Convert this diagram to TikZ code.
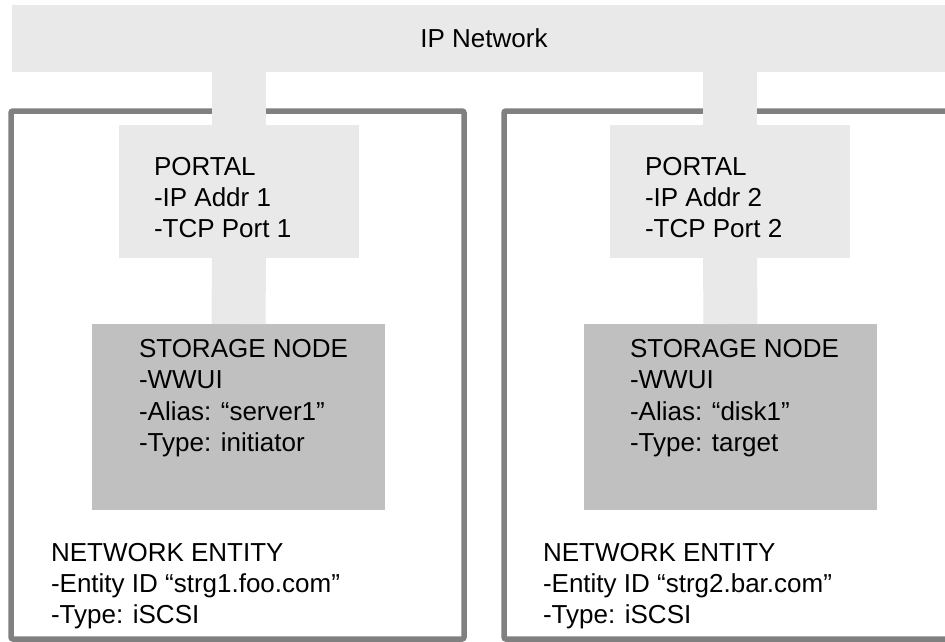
\documentclass[tikz,border=0pt]{standalone}
\usepackage{fontspec}
\setmainfont{Liberation Sans}
\definecolor{netgray}{RGB}{233,233,233}
\definecolor{nodegray}{RGB}{192,192,192}
\definecolor{framegray}{RGB}{128,128,128}
\begin{document}
\begin{tikzpicture}[x=1pt,y=-1pt,
  blockbox/.style={rectangle, inner sep=0pt, outer sep=0pt, anchor=north west, draw=none},
  netbox/.style={blockbox, fill=netgray},
  sbox/.style={blockbox, fill=nodegray, minimum width=293pt, minimum height=186pt},
  pbox/.style={netbox, minimum width=240pt, minimum height=133pt},
  framebox/.style={blockbox, draw=framegray, line width=5.5pt, rounded corners=2pt, fill=none},
  strip/.style={draw=netgray, line width=54pt, line cap=butt},
  lbl/.style={anchor=north west, inner sep=0pt, outer sep=0pt, align=left,
              font=\fontsize{26}{31.3}\selectfont},
]
\useasboundingbox (0,0) rectangle (945,642);
\clip (0,0) rectangle (945,642);
\fill[white] (0,0) rectangle (945,642);

% IP network band
\node[netbox, minimum width=960pt, minimum height=67pt] (net) at (12,5) {};
\node[anchor=base, inner sep=0pt, font=\fontsize{26}{31.3}\selectfont] (netlbl) at (484,48) {IP Network};

% network entity frames
\node[framebox, minimum width=453pt, minimum height=528pt] (ent1) at (11,111) {};
\node[framebox, minimum width=480pt, minimum height=528pt] (ent2) at (504,111) {};

% portals
\node[pbox] (p1) at (119,125) {};
\node[pbox] (p2) at (610,125) {};

% storage nodes
\node[sbox] (s1) at (92,324) {};
\node[sbox] (s2) at (584,324) {};

% connecting strips
\draw[strip] (net.south -| p1.north) -- (p1.north);
\draw[strip] (p1.south) -- (s1.north);
\draw[strip] (net.south -| p2.north) -- (p2.north);
\draw[strip] (p2.south) -- (s2.north);

% labels
\node[lbl] (p1lbl) at (154,155) {\rule{0pt}{20pt}PORTAL\\-IP Addr 1\\-TCP Port 1};
\node[lbl] (p2lbl) at (645,155) {\rule{0pt}{20pt}PORTAL\\-IP Addr 2\\-TCP Port 2};
\node[lbl] (s1lbl) at (139,337.5) {\rule{0pt}{20pt}STORAGE NODE\\-WWUI\\-Alias: “server1”\\-Type: initiator};
\node[lbl] (s2lbl) at (630,337.5) {\rule{0pt}{20pt}STORAGE NODE\\-WWUI\\-Alias: “disk1”\\-Type: target};
\node[lbl] (e1lbl) at (51,541) {\rule{0pt}{20pt}NETWORK ENTITY\\-Entity ID “strg1.foo.com”\\-Type: iSCSI};
\node[lbl] (e2lbl) at (543,541) {\rule{0pt}{20pt}NETWORK ENTITY\\-Entity ID “strg2.bar.com”\\-Type: iSCSI};
\end{tikzpicture}
\end{document}
